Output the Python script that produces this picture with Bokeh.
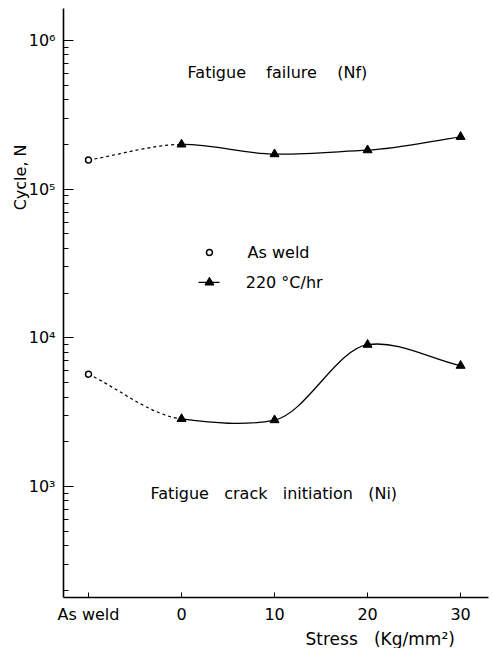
import math
from bokeh.plotting import figure
from bokeh.models import ColumnDataSource, FixedTicker, Label, Range1d
from bokeh.embed import file_html
from bokeh.resources import INLINE

# ---- data ----
categories = ["As weld", "0", "10", "20", "30"]
nf_cycles = [1.57e5, 2.0e5, 1.72e5, 1.83e5, 2.25e5]   # Fatigue failure (Nf)
ni_cycles = [5.7e3, 2.85e3, 2.8e3, 9.0e3, 6.5e3]      # Fatigue crack initiation (Ni)
y_ticks = [1e3, 1e4, 1e5, 1e6]
y_tick_labels = ["10³", "10⁴", "10⁵", "10⁶"]

x_pos = list(range(len(categories)))
FONT = "DejaVu Sans"
NB = "\u00a0"

p = figure(width=490, height=648, y_axis_type="log",
           x_range=Range1d(-0.269, 4.30), y_range=Range1d(10 ** 2.254, 10 ** 6.215),
           output_backend="svg", toolbar_location=None,
           min_border_top=8, min_border_right=2, min_border_left=63, min_border_bottom=51)
p.outline_line_color = None
p.grid.visible = False
p.background_fill_color = "white"
p.border_fill_color = "white"

# axes
p.xaxis.ticker = FixedTicker(ticks=x_pos)
p.xaxis.major_label_overrides = {i: c for i, c in zip(x_pos, categories)}
p.xaxis.major_tick_in = 5
p.xaxis.major_tick_out = 0
p.xaxis.minor_tick_in = 0
p.xaxis.minor_tick_out = 0
p.xaxis.major_label_standoff = 7

minor = [m * 10 ** e for e in range(2, 7) for m in range(2, 10)]
p.yaxis.ticker = FixedTicker(ticks=y_ticks, minor_ticks=minor)
p.yaxis.major_label_overrides = {int(t): l for t, l in zip(y_ticks, y_tick_labels)}
p.yaxis.major_tick_in = 10
p.yaxis.major_tick_out = 0
p.yaxis.minor_tick_in = 5
p.yaxis.minor_tick_out = 0
p.yaxis.major_label_standoff = 8

for ax in (p.xaxis, p.yaxis):
    ax.axis_line_width = 1.6
    ax.axis_line_color = "black"
    ax.major_tick_line_color = "black"
    ax.minor_tick_line_color = "black"
    ax.major_label_text_font = FONT
    ax.major_label_text_font_size = "16px"
    ax.major_label_text_color = "black"


def smooth_segments(xs, ys, tension=0.5):
    """Cardinal-spline cubic bezier segments in (x, log10 y) space."""
    ly = [math.log10(v) for v in ys]
    n = len(xs)
    d = [(ly[i + 1] - ly[i]) / (xs[i + 1] - xs[i]) for i in range(n - 1)]
    m = [0.0] * n
    m[0], m[-1] = d[0], d[-1]
    for k in range(1, n - 1):
        m[k] = tension * (ly[k + 1] - ly[k - 1]) / (xs[k + 1] - xs[k - 1])
    out = dict(x0=[], y0=[], x1=[], y1=[], cx0=[], cy0=[], cx1=[], cy1=[])
    for i in range(n - 1):
        h = xs[i + 1] - xs[i]
        out["x0"].append(xs[i]); out["y0"].append(ys[i])
        out["x1"].append(xs[i + 1]); out["y1"].append(ys[i + 1])
        out["cx0"].append(xs[i] + h / 3)
        out["cy0"].append(10 ** (ly[i] + m[i] * h / 3))
        out["cx1"].append(xs[i + 1] - h / 3)
        out["cy1"].append(10 ** (ly[i + 1] - m[i + 1] * h / 3))
    return out


for series in (nf_cycles, ni_cycles):
    segs = smooth_segments(x_pos, series)
    dashed = {k: v[:1] for k, v in segs.items()}
    solid = {k: v[1:] for k, v in segs.items()}
    p.bezier(source=ColumnDataSource(dashed), x0="x0", y0="y0", x1="x1", y1="y1",
             cx0="cx0", cy0="cy0", cx1="cx1", cy1="cy1",
             line_color="black", line_width=1.2, line_dash="3 3")
    p.bezier(source=ColumnDataSource(solid), x0="x0", y0="y0", x1="x1", y1="y1",
             cx0="cx0", cy0="cy0", cx1="cx1", cy1="cy1",
             line_color="black", line_width=1.3)
    p.scatter(x=x_pos[:1], y=series[:1], marker="circle", size=6,
              fill_color="white", line_color="black", line_width=1.5)
    p.scatter(x=x_pos[1:], y=series[1:], marker="triangle", size=9,
              fill_color="black", line_color="black")

# legend (hand-drawn like the original)
p.scatter(x=[1.30], y=[3.75e4], marker="circle", size=6,
          fill_color="white", line_color="black", line_width=1.5)
p.line(x=[1.183, 1.409], y=[2.36e4, 2.36e4], line_color="black", line_width=1.3)
p.scatter(x=[1.30], y=[2.36e4], marker="triangle", size=9,
          fill_color="black", line_color="black")


def make_label(x, y, text, size="16px", angle=0.0, align="left"):
    return Label(x=x, y=y, text=text, angle=angle, text_font=FONT,
                 text_font_size=size, text_color="black",
                 text_align=align, text_baseline="middle")

p.add_layout(make_label(1.71, 3.75e4, "As weld"))
p.add_layout(make_label(1.69, 2.36e4, "220 °C/hr"))
p.add_layout(make_label(1.065, 6.08e5, "Fatigue" + NB * 4 + "failure" + NB * 4 + "(Nf)"))
p.add_layout(make_label(0.667, 898, "Fatigue" + NB * 3 + "crack" + NB * 3 + "initiation" + NB * 3 + "(Ni)"))
# texts outside the frame live in side panels so they are not clipped
p.add_layout(make_label(-0.731, 1.2e5, "Cycle, N", angle=math.pi / 2, align="center"), "left")
p.add_layout(make_label(2.333, 95, "Stress" + NB * 3 + "(Kg/mm²)", size="17px"), "below")

open("out.html", "w").write(file_html(p, INLINE))
